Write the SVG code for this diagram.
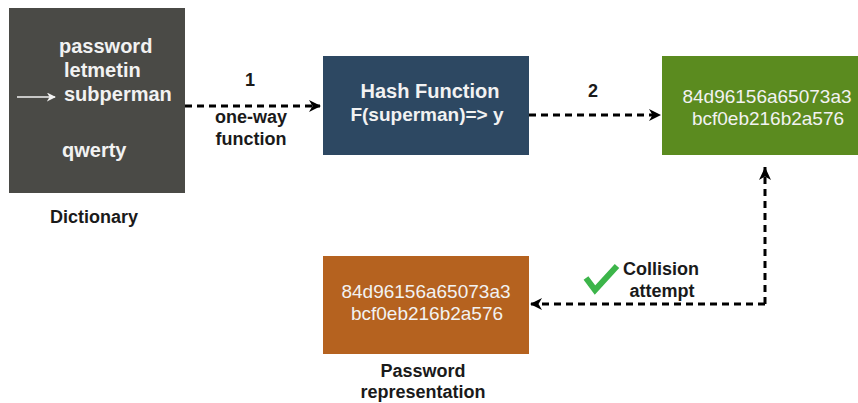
<svg xmlns="http://www.w3.org/2000/svg" width="858" height="403" viewBox="0 0 858 403">
<style>
.lbl{font-family:"Liberation Sans",Arial,sans-serif;font-weight:bold;font-size:18px;fill:#1a1a1a;text-anchor:middle}
.wb{font-family:"Liberation Sans",Arial,sans-serif;font-weight:bold;font-size:20px;fill:#f2f2f2}
.wr{font-family:"Liberation Sans",Arial,sans-serif;font-size:19px;fill:#f2f2f2;text-anchor:middle}
.dash{fill:none;stroke:#000;stroke-width:3;stroke-dasharray:7 5}
</style>
<defs>
<marker id="ah" viewBox="0 0 12 12" refX="11" refY="6" markerWidth="12" markerHeight="12" markerUnits="userSpaceOnUse" orient="auto">
<path d="M0,0 L12,6 L0,12 L3.5,6 Z" fill="#000"/>
</marker>
<marker id="wah" viewBox="0 0 10 10" refX="9" refY="5" markerWidth="9" markerHeight="9" markerUnits="userSpaceOnUse" orient="auto">
<path d="M0,0 L10,5 L0,10 L3,5 Z" fill="#f2f2f2"/>
</marker>
</defs>
<rect width="858" height="403" fill="#fff"/>
<g id="dictionary">
<rect x="9" y="8" width="176" height="185" fill="#4a4a46"/>
<text class="wb" x="59" y="53">password</text>
<text class="wb" x="64" y="77">letmetin</text>
<text class="wb" x="64" y="101">subperman</text>
<text class="wb" x="62" y="157">qwerty</text>
<line x1="17" y1="97" x2="55" y2="97" stroke="#f2f2f2" stroke-width="1.5" marker-end="url(#wah)"/>
<text class="lbl" x="94" y="223">Dictionary</text>
</g>
<g id="hash">
<rect x="323" y="56" width="206" height="99" fill="#2d4862"/>
<text class="wb" x="430" y="98" text-anchor="middle" font-size="19.5">Hash Function</text>
<text class="wr" x="427" y="121" font-weight="bold" font-size="19.5">F(superman)=&gt; y</text>
</g>
<g id="hashvalue">
<rect x="662" y="56" width="196" height="99" fill="#5b8b1f"/>
<text class="wr" x="767" y="103">84d96156a65073a3</text>
<text class="wr" x="768" y="125">bcf0eb216b2a576</text>
</g>
<g id="password">
<rect x="323" y="256" width="206" height="98" fill="#b5621f"/>
<text class="wr" x="426" y="298">84d96156a65073a3</text>
<text class="wr" x="427" y="320">bcf0eb216b2a576</text>
<text class="lbl" x="423" y="377">Password</text>
<text class="lbl" x="423" y="398">representation</text>
</g>
<g id="connectors">
<line class="dash" x1="185" y1="106" x2="320" y2="106" marker-end="url(#ah)"/>
<text class="lbl" x="250" y="86">1</text>
<text class="lbl" x="251" y="123">one-way</text>
<text class="lbl" x="251" y="145">function</text>
<line class="dash" x1="529" y1="115" x2="660" y2="115" marker-end="url(#ah)"/>
<text class="lbl" x="593" y="97">2</text>
<polyline class="dash" points="765,304 765,167"/>
<path d="M765,167 L771,180 L765,176.5 L759,180 Z" fill="#000"/>
<polyline class="dash" points="765,304 531,304" marker-end="url(#ah)"/>
<path d="M586,278 L595,290 L617,266" fill="none" stroke="#3cb54a" stroke-width="6" stroke-linejoin="miter"/>
<text class="lbl" x="661" y="275">Collision</text>
<text class="lbl" x="662" y="297">attempt</text>
</g>
</svg>
